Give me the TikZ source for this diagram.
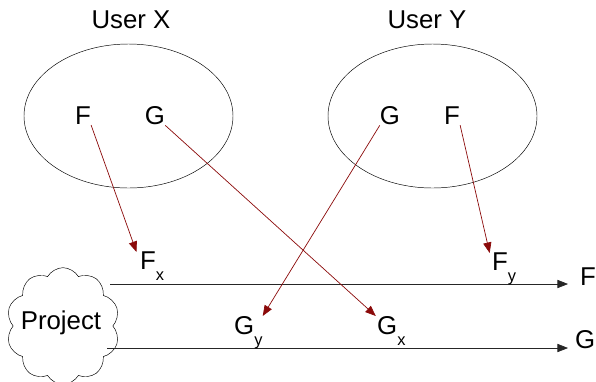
\documentclass[tikz,border=0pt]{standalone}
\usepackage{fontspec}
\setmainfont{Liberation Sans}
\usepackage{xcolor}
\usepackage{tikz}
\usetikzlibrary{arrows.meta, shapes.symbols, shapes.geometric}

\definecolor{darkred}{HTML}{8B0A0A}

\begin{document}
\begin{tikzpicture}[
  x=0.03cm, y=-0.03cm,
  label/.style={inner sep=0pt, font=\fontsize{22}{26}\selectfont},
  sub/.style={inner sep=0pt, font=\fontsize{22}{26}\selectfont, anchor=north west},
  user/.style={draw, ellipse, minimum width=6.27cm, minimum height=4.32cm},
  move/.style={-{Triangle[length=9pt, width=7pt]}, darkred, semithick},
  flow/.style={-{Triangle[length=9pt, width=7pt]}, semithick, black!85},
]
  \useasboundingbox (0,0) rectangle (596,381);

  % Users and their files
  \node[user] (ux) at (128.5,116) {};
  \node[user] (uy) at (432.5,116) {};
  \node[label] (tx) at (131,20) {User X};
  \node[label] (ty) at (427,20) {User Y};
  \node[label] (xf) at (83,116)  {F};
  \node[label] (xg) at (155,116) {G};
  \node[label] (yg) at (390,116) {G};
  \node[label] (yf) at (452,116) {F};

  % Project with its two lines
  \node[draw, cloud, cloud puffs=10, cloud puff arc=120, aspect=1,
        minimum width=3.4cm, minimum height=3.5cm, inner sep=0pt] (proj) at (63,326) {};
  \node[label] (ptext) at (61,323) {Project};
  \coordinate (fend) at (568,284);
  \coordinate (gend) at (568,348);
  \draw[flow] (110,284) coordinate (fstart) -- (fend);
  \draw[flow] (107,348) coordinate (gstart) -- (gend);
  \node[label, anchor=west] (fout) at (580,277) {F};
  \node[label, anchor=west] (gout) at (575,340) {G};

  % Copies on the lines
  \node[sub] (fx) at (140,252) {F\raisebox{-0.42em}{\fontsize{14}{16}\selectfont x}};
  \node[sub] (fy) at (492,253) {F\raisebox{-0.42em}{\fontsize{14}{16}\selectfont y}};
  \node[sub] (gy) at (234,316) {G\raisebox{-0.42em}{\fontsize{14}{16}\selectfont y}};
  \node[sub] (gx) at (377,316) {G\raisebox{-0.42em}{\fontsize{14}{16}\selectfont x}};

  % Who moved what
  \draw[move] (xf.south east) -- ([xshift=-3pt]fx.north west);
  \draw[move] (xg.south east) -- ([xshift=-1pt]gx.north west);
  \draw[move] (yg.south west) -- ([xshift=0pt]gy.north east);
  \draw[move] (yf.south east) -- ([xshift=-2pt]fy.north west);
\end{tikzpicture}
\end{document}
